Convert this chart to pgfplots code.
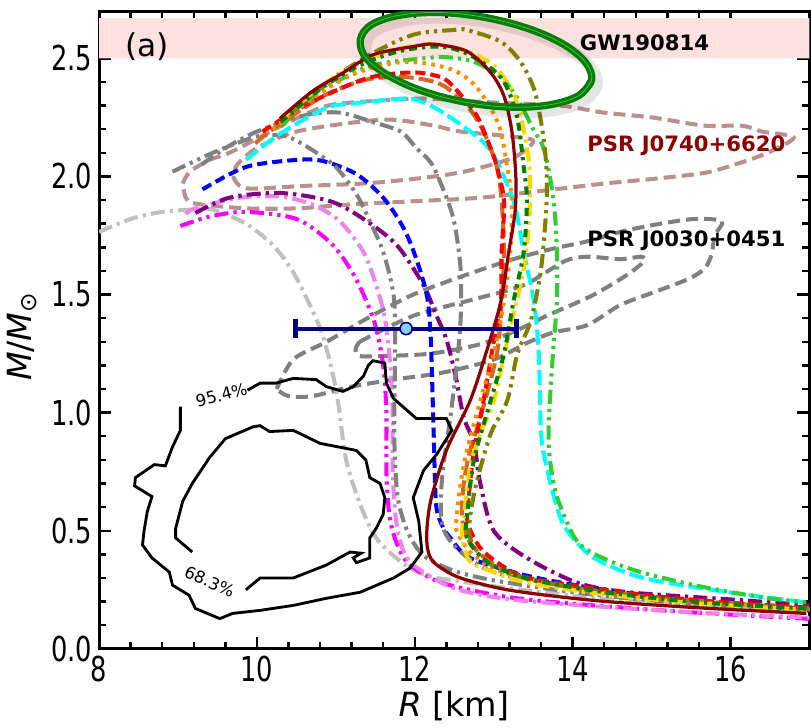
\documentclass[border=0pt]{standalone}
\usepackage{fontspec}
\setmainfont{DejaVu Sans}
\newfontfamily\tickfont[FakeStretch=0.75]{DejaVu Sans}
\usepackage{pgfplots}
\pgfplotsset{compat=1.18}

\definecolor{mplsilver}{RGB}{192,192,192}
\definecolor{mplmagenta}{RGB}{255,0,255}
\definecolor{mplviolet}{RGB}{238,130,238}
\definecolor{mplpurple}{RGB}{128,0,128}
\definecolor{mplgray}{RGB}{128,128,128}
\definecolor{mplblue}{RGB}{0,0,255}
\definecolor{mplred}{RGB}{255,0,0}
\definecolor{mplcyan}{RGB}{0,255,255}
\definecolor{mpllime}{RGB}{50,205,50}
\definecolor{mpldarkred}{RGB}{139,0,0}
\definecolor{mplgold}{RGB}{255,215,0}
\definecolor{mplgreen}{RGB}{0,128,0}
\definecolor{mplolive}{RGB}{128,128,0}
\definecolor{mplorange}{RGB}{255,140,0}
\definecolor{mplchoc}{RGB}{210,105,30}
\definecolor{rosybrown}{RGB}{188,143,143}
\definecolor{navy}{RGB}{0,0,128}
\definecolor{skyblue}{RGB}{135,206,235}
\definecolor{bandpink}{RGB}{253,225,222}

\tikzset{
  mr/.style={line width=2pt, smooth, tension=0.5, no marks},
  dsh/.style={dash pattern=on 5pt off 2.5pt},
  ldsh/.style={dash pattern=on 7.5pt off 2.5pt},
  dd/.style={dash pattern=on 7pt off 2.5pt on 1.6pt off 2.5pt},
  ddd/.style={dash pattern=on 7pt off 2.5pt on 1.6pt off 2.5pt on 1.6pt off 2.5pt},
  dot/.style={dash pattern=on 1.8pt off 2.6pt},
  contour/.style={line width=2pt, smooth, tension=0.5, no marks, dash pattern=on 6pt off 3pt},
}

\begin{document}
\begin{tikzpicture}
\begin{axis}[
  scale only axis, width=352pt, height=316pt,
  xmin=8, xmax=17, ymin=0, ymax=2.7,
  xtick={8,10,12,14,16}, ytick={0,0.5,1,1.5,2,2.5},
  minor x tick num=4, minor y tick num=4,
  tick align=inside, tick pos=both,
  major tick length=6pt, minor tick length=3.5pt,
  every tick/.style={line width=1.2pt, black},
  axis line style={line width=1.5pt},
  /pgf/number format/assume math mode=true,
  tick label style={font=\tickfont\fontsize{17}{17}\selectfont},
  yticklabel style={/pgf/number format/.cd, fixed, fixed zerofill, precision=1},
  xlabel={\textit{R} [km]},
  ylabel={\textit{M}/\textit{M}\textsubscript{⊙}},
  label style={font=\fontsize{16.5}{16.5}\selectfont},
  x label style={at={(axis description cs:0.5,-0.09)}, anchor=center},
  y label style={at={(axis description cs:-0.109,0.49)}, anchor=center},
]

% GW190814 band
\addplot[draw=none, fill=bandpink] coordinates {(8,2.5)(17,2.5)(17,2.67)(8,2.67)(8,2.5)};

% PSR J0740+6620 contour
\addplot[contour, rosybrown] coordinates {
 (9.06,1.97)(9.15,2.02)(9.4,2.07)(9.65,2.10)(10.0,2.16)(10.4,2.23)(10.9,2.30)(11.5,2.32)
 (12.1,2.33)(12.6,2.32)(13.2,2.31)(13.85,2.30)(14.4,2.27)(15.0,2.25)(15.67,2.215)(16.14,2.215)
 (16.4,2.19)(16.8,2.165)(16.47,2.10)(16.05,2.05)(15.67,2.015)(15.03,1.99)(14.4,1.97)(13.76,1.945)
 (12.83,1.91)(11.98,1.895)(11.13,1.88)(10.5,1.865)(9.86,1.865)(9.22,1.885)(9.1,1.91)(9.06,1.97)};
\addplot[contour, rosybrown] coordinates {
 (9.7,2.0)(9.86,1.95)(10.6,1.96)(11.35,1.97)(12.0,1.99)(12.62,2.02)(13.25,2.08)(13.5,2.15)
 (13.2,2.17)(12.58,2.19)(12.24,2.215)(11.73,2.24)(11.26,2.23)(10.5,2.19)(10.0,2.12)(9.75,2.05)(9.7,2.0)};

% PSR J0030+0451 contour
\addplot[contour, mplgray] coordinates {
 (10.25,1.10)(10.46,1.225)(10.88,1.30)(11.4,1.40)(11.98,1.50)(12.62,1.58)(13.25,1.65)(13.76,1.695)
 (14.18,1.725)(14.6,1.765)(15.03,1.795)(15.54,1.82)(15.89,1.81)(15.8,1.75)(15.76,1.67)(15.67,1.61)
 (15.46,1.565)(15.03,1.51)(14.6,1.455)(14.18,1.37)(13.76,1.34)(13.42,1.295)(13.0,1.225)(12.36,1.17)
 (11.73,1.14)(11.2,1.11)(10.7,1.07)(10.4,1.07)(10.25,1.10)};
\addplot[contour, mplgray] coordinates {
 (11.3,1.30)(11.98,1.41)(12.75,1.48)(13.38,1.54)(13.89,1.64)(14.18,1.66)(14.6,1.65)(14.87,1.66)
 (14.9,1.64)(14.74,1.595)(14.53,1.55)(14.27,1.50)(13.98,1.455)(13.67,1.41)(13.3,1.35)(12.83,1.29)
 (12.2,1.25)(11.6,1.24)(11.3,1.24)(11.25,1.27)(11.3,1.30)};

% mass-radius curves
\addplot[mr, mplsilver, dd] coordinates {
 (8.0,1.765)(8.4,1.82)(8.8,1.85)(9.2,1.86)(9.44,1.86)(9.86,1.80)(10.2,1.71)(10.45,1.60)(10.65,1.47)
 (10.82,1.34)(10.95,1.18)(11.03,1.04)(11.13,0.80)(11.31,0.61)(11.51,0.47)(11.82,0.37)(12.15,0.31)
 (12.6,0.285)(13.0,0.265)(14.0,0.225)(15.0,0.195)(16.0,0.175)(17.0,0.16)};
\addplot[mr, mplmagenta, ddd] coordinates {
 (9.03,1.79)(9.4,1.83)(9.86,1.85)(10.5,1.82)(10.93,1.72)(11.18,1.61)(11.35,1.50)(11.5,1.37)
 (11.6,1.2)(11.64,1.0)(11.64,0.75)(11.68,0.56)(11.78,0.44)(11.94,0.355)(12.36,0.278)(13.21,0.218)
 (14.27,0.184)(15.54,0.154)(17.0,0.127)};
\addplot[mr, mplviolet, dd] coordinates {
 (9.1,1.84)(9.22,1.865)(9.78,1.91)(10.29,1.915)(10.71,1.88)(11.05,1.81)(11.35,1.68)(11.51,1.54)
 (11.62,1.40)(11.69,1.2)(11.72,1.0)(11.72,0.755)(11.76,0.55)(11.85,0.42)(12.0,0.35)(12.49,0.257)
 (13.2,0.21)(14.3,0.18)(15.5,0.155)(17.0,0.132)};
\addplot[mr, mplpurple, dd] coordinates {
 (9.22,1.845)(9.65,1.91)(10.29,1.93)(10.93,1.895)(11.35,1.82)(11.77,1.71)(12.11,1.54)(12.25,1.43)
 (12.4,1.31)(12.52,1.15)(12.62,0.98)(12.75,0.87)(12.83,0.70)(13.0,0.50)(13.42,0.385)(14.06,0.28)
 (14.7,0.24)(15.97,0.21)(17.0,0.185)};
\addplot[mr, mplblue, dsh] coordinates {
 (9.31,1.945)(9.86,2.04)(10.5,2.07)(10.84,2.065)(11.26,2.01)(11.6,1.91)(11.86,1.78)(12.02,1.65)
 (12.15,1.50)(12.2,1.33)(12.24,0.90)(12.27,0.61)(12.35,0.52)(12.45,0.47)(12.7,0.385)(13.42,0.31)
 (14.3,0.255)(15.2,0.215)(16.1,0.185)(17.0,0.163)};
\addplot[mr, mplgray, ddd] coordinates {
 (8.93,2.02)(9.44,2.10)(9.95,2.165)(10.2,2.175)(10.42,2.165)(10.71,2.11)(11.0,2.04)(11.26,1.925)
 (11.43,1.81)(11.6,1.68)(11.73,1.50)(11.75,1.3)(11.74,0.9)(11.78,0.65)(11.88,0.52)(12.0,0.44)
 (12.15,0.385)(12.5,0.33)(13.0,0.29)(14.0,0.24)(15.0,0.205)(16.0,0.18)(17.0,0.165)};
\addplot[mr, mplgray, dd] coordinates {
 (9.3,2.05)(9.6,2.12)(10.0,2.19)(10.62,2.26)(11.05,2.27)(11.47,2.23)(11.82,2.19)(12.02,2.12)
 (12.2,2.06)(12.33,1.97)(12.49,1.82)(12.58,1.61)(12.58,1.39)(12.53,1.20)(12.45,0.98)(12.36,0.77)
 (12.33,0.625)(12.36,0.51)(12.55,0.42)(13.0,0.325)(14.0,0.26)(15.0,0.22)(16.0,0.19)(17.0,0.17)};
\addplot[mr, mplcyan, ldsh] coordinates {
 (9.86,2.07)(10.29,2.18)(10.88,2.29)(11.26,2.31)(11.9,2.33)(12.2,2.30)(12.58,2.22)(12.96,2.11)
 (13.25,1.895)(13.38,1.68)(13.51,1.47)(13.57,1.25)(13.6,0.91)(13.67,0.77)(13.8,0.60)(13.93,0.50)
 (14.27,0.385)(14.9,0.30)(15.97,0.24)(16.96,0.197)};
\addplot[mr, mpllime, ddd] coordinates {
 (10.3,2.21)(10.8,2.36)(11.3,2.45)(11.6,2.48)(12.11,2.50)(12.4,2.505)(12.75,2.485)(13.09,2.42)
 (13.3,2.33)(13.5,2.2)(13.64,2.11)(13.76,1.895)(13.8,1.68)(13.8,1.47)(13.75,1.25)(13.7,0.98)
 (13.7,0.84)(13.76,0.70)(13.85,0.60)(14.1,0.44)(14.7,0.342)(15.54,0.27)(16.4,0.218)(16.96,0.197)};
\addplot[mr, mplchoc, ldsh] coordinates {
 (9.98,2.14)(10.2,2.20)(10.84,2.34)(11.39,2.41)(11.9,2.42)(12.33,2.39)(12.66,2.30)(12.87,2.19)
 (13.04,2.04)(13.1,1.895)(13.13,1.68)(13.1,1.47)(13.04,1.25)(12.83,0.98)(12.7,0.84)(12.62,0.70)
 (12.6,0.55)(12.7,0.45)(12.95,0.37)(13.4,0.30)(14.2,0.25)(15.3,0.21)(17.0,0.17)};
\addplot[mr, mplred, dsh] coordinates {
 (10.07,2.19)(10.6,2.30)(11.26,2.40)(11.6,2.43)(12.02,2.44)(12.33,2.42)(12.49,2.38)(12.78,2.26)
 (12.96,2.12)(13.04,2.04)(13.13,1.895)(13.1,1.68)(13.09,1.47)(13.0,1.30)(12.87,1.05)(12.75,0.84)
 (12.7,0.70)(12.66,0.556)(12.75,0.47)(12.91,0.40)(13.34,0.31)(13.98,0.27)(15.0,0.225)(16.0,0.195)(17.0,0.175)};
\addplot[mr, mplorange, dot] coordinates {
 (10.2,2.2)(10.7,2.33)(11.2,2.43)(11.73,2.48)(12.11,2.48)(12.49,2.45)(12.75,2.39)(12.96,2.29)
 (13.09,2.19)(13.17,2.04)(13.23,1.895)(13.21,1.68)(13.13,1.47)(13.0,1.25)(12.83,1.05)(12.66,0.84)
 (12.58,0.70)(12.53,0.556)(12.53,0.50)(12.7,0.41)(13.0,0.34)(13.5,0.29)(14.3,0.24)(15.5,0.2)(17.0,0.17)};
\addplot[mr, mplolive, ddd] coordinates {
 (10.4,2.26)(10.9,2.40)(11.43,2.515)(11.98,2.60)(12.49,2.62)(12.66,2.62)(13.09,2.57)(13.34,2.485)
 (13.51,2.37)(13.6,2.23)(13.66,2.07)(13.67,1.895)(13.6,1.61)(13.47,1.39)(13.3,1.25)(13.17,1.05)
 (12.96,0.91)(12.78,0.70)(12.7,0.556)(12.7,0.47)(12.9,0.37)(13.4,0.30)(14.3,0.245)(15.5,0.2)(17.0,0.17)};
\addplot[mr, mplgold, dd] coordinates {
 (10.3,2.24)(10.8,2.38)(11.3,2.48)(11.8,2.54)(12.2,2.56)(12.66,2.53)(13.0,2.47)(13.22,2.37)
 (13.34,2.26)(13.45,2.045)(13.45,1.82)(13.38,1.61)(13.29,1.47)(13.17,1.30)(13.0,1.05)(12.83,0.91)
 (12.7,0.77)(12.62,0.556)(12.6,0.47)(12.7,0.37)(13.0,0.325)(13.42,0.28)(14.3,0.235)(15.5,0.195)(17.0,0.165)};
\addplot[mr, mplgreen, dash pattern=on 4pt off 2.5pt on 1.6pt off 2.5pt] coordinates {
 (10.3,2.23)(10.8,2.37)(11.3,2.47)(11.8,2.53)(12.3,2.55)(12.66,2.52)(13.09,2.42)(13.29,2.26)
 (13.38,2.04)(13.42,1.90)(13.38,1.68)(13.25,1.47)(13.13,1.25)(12.96,1.05)(12.75,0.80)(12.66,0.556)
 (12.66,0.47)(12.91,0.37)(13.4,0.30)(14.3,0.245)(15.5,0.2)(17.0,0.17)};
\addplot[mr, mpldarkred, line width=1.6pt] coordinates {
 (10.29,2.245)(10.7,2.36)(11.05,2.43)(11.47,2.515)(11.98,2.55)(12.24,2.56)(12.66,2.53)(12.96,2.44)
 (13.13,2.34)(13.23,2.19)(13.28,2.00)(13.27,1.85)(13.19,1.68)(13.09,1.47)(12.9,1.25)(12.7,1.05)
 (12.4,0.84)(12.2,0.625)(12.15,0.48)(12.18,0.40)(12.28,0.355)(12.58,0.30)(13.21,0.248)(14.27,0.205)
 (15.54,0.175)(16.96,0.15)};

% black credibility contours
\addplot[black, line width=1.4pt, no marks] coordinates {
 (9.03,1.026)(9.03,0.925)(8.93,0.855)(8.84,0.775)(8.7,0.78)(8.46,0.725)(8.45,0.69)(8.67,0.645)
 (8.61,0.58)(8.57,0.50)(8.55,0.44)(8.67,0.385)(8.89,0.325)(8.93,0.27)(9.14,0.227)(9.22,0.171)
 (9.53,0.128)(9.69,0.15)(10.04,0.163)(10.46,0.184)(10.88,0.214)(11.31,0.24)(11.73,0.30)(11.94,0.342)
 (12.09,0.41)(12.05,0.54)(11.98,0.64)(12.11,0.755)(12.28,0.825)(12.47,0.925)(12.4,0.975)(12.02,0.975)
 (11.73,1.06)(11.64,1.125)(11.62,1.21)(11.47,1.22)(11.41,1.20)(11.35,1.155)(11.22,1.11)(11.09,1.09)
 (10.88,1.11)(10.75,1.14)(10.46,1.145)(10.24,1.125)(10.04,1.125)(9.88,1.095)};
\addplot[black, line width=1.4pt, no marks] coordinates {
 (9.18,0.41)(8.97,0.47)(8.97,0.51)(9.06,0.625)(9.18,0.70)(9.4,0.81)(9.6,0.89)(9.95,0.94)(10.04,0.945)
 (10.16,0.92)(10.46,0.925)(10.8,0.87)(11.26,0.84)(11.38,0.80)(11.43,0.725)(11.56,0.70)(11.62,0.64)
 (11.6,0.57)(11.51,0.51)(11.43,0.47)(11.43,0.385)(11.26,0.365)(11.22,0.385)(11.32,0.405)(11.18,0.41)
 (10.88,0.355)(10.46,0.30)(10.04,0.30)(9.86,0.25)};
\node[font=\fontsize{8.2}{8.2}\selectfont, rotate=15] at (axis cs:9.55,1.075) {95.4\%};
\node[font=\fontsize{8.2}{8.2}\selectfont, rotate=-24] at (axis cs:9.4,0.285) {68.3\%};

% GW190814 ellipse (shadow, then sketchy strokes)
\addplot[black, opacity=0.10, line width=6pt, smooth, tension=0.6, no marks, xshift=2.5pt, yshift=-2.5pt] coordinates {
 (14.24,2.408)(14.09,2.345)(13.74,2.305)(13.25,2.293)(12.68,2.312)(12.12,2.359)(11.67,2.426)(11.38,2.503)
 (11.31,2.579)(11.45,2.642)(11.80,2.682)(12.30,2.694)(12.86,2.675)(13.42,2.628)(13.87,2.562)(14.16,2.484)
 (14.24,2.408)(14.09,2.345)};
\addplot[mplgreen, line width=3.6pt, smooth, tension=0.6, no marks] coordinates {
 (14.24,2.408)(14.09,2.345)(13.74,2.305)(13.25,2.293)(12.68,2.312)(12.12,2.359)(11.67,2.426)(11.38,2.503)
 (11.31,2.579)(11.45,2.642)(11.80,2.682)(12.30,2.694)(12.86,2.675)(13.42,2.628)(13.87,2.562)(14.16,2.484)
 (14.24,2.408)(14.09,2.345)};
\addplot[white, opacity=0.35, line width=0.4pt, smooth, tension=0.6, no marks] coordinates {
 (14.24,2.408)(14.09,2.345)(13.74,2.305)(13.25,2.293)(12.68,2.312)(12.12,2.359)(11.67,2.426)(11.38,2.503)
 (11.31,2.579)(11.45,2.642)(11.80,2.682)(12.30,2.694)(12.86,2.675)(13.42,2.628)(13.87,2.562)(14.16,2.484)
 (14.24,2.408)(14.09,2.345)};

% radius constraint with error bar
\addplot[navy, line width=2pt, mark=*, mark size=3pt,
  mark options={fill=skyblue, draw=navy, line width=0.8pt},
  error bars/.cd, x dir=both, x explicit, error mark=|,
  error bar style={line width=2pt, navy},
  error mark options={mark size=4.5pt, line width=2.5pt, navy}]
  coordinates {(11.89,1.356) +- (1.40,0)};

\node[font=\fontsize{10.5}{10.5}\selectfont\bfseries] at (axis cs:14.91,2.566) {GW190814};
\node[font=\fontsize{10.5}{10.5}\selectfont\bfseries, text=mpldarkred] at (axis cs:15.44,2.13) {PSR J0740+6620};
\node[font=\fontsize{10.5}{10.5}\selectfont\bfseries] at (axis cs:15.44,1.728) {PSR J0030+0451};
\node[font=\fontsize{15.5}{15.5}\selectfont] at (axis cs:8.61,2.55) {(a)};
\end{axis}
\path ([yshift=5.5pt]current axis.north);
\end{tikzpicture}
\end{document}
